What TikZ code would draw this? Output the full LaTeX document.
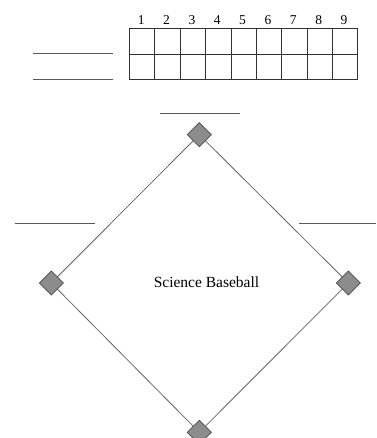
\documentclass[tikz,border=0pt]{standalone}
\usepackage{fontspec}
\setmainfont{Liberation Serif}
\begin{document}
\begin{tikzpicture}[x=1pt,y=-1pt,
  blank/.style={draw=black!65,line width=1pt},
  field/.style={draw=black!60,line width=0.8pt},
  base/.style={draw=black!70,fill=black!45,line width=0.7pt,minimum size=17pt,rotate=45,inner sep=0pt},
  gridline/.style={draw=black!80,line width=0.8pt},
  num/.style={font=\fontsize{13.5}{13.5}\selectfont,inner sep=0pt}]
\useasboundingbox (0,0) rectangle (376,438);
% score grid
\def\gx{129.5}\def\gw{25.35}
\draw[gridline] (\gx,28.7) rectangle (\gx+9*\gw,79.3);
\draw[gridline] (\gx,54) -- (\gx+9*\gw,54);
\foreach \i in {1,...,8} \draw[gridline] (\gx+\i*\gw,28.7) -- (\gx+\i*\gw,79.3);
\foreach \i in {1,...,9} \node[num] (n\i) at (\gx+\i*\gw-0.5*\gw-1,20.5) {\i};
% name lines
\draw[blank] (33.3,54) -- (112.7,54);
\draw[blank] (33.3,79.3) -- (112.7,79.3);
\draw[blank] (160,113.3) -- (240,113.3);
\draw[blank] (15,223.3) -- (95,223.3);
\draw[blank] (299.3,223.3) -- (376,223.3);
% field
\coordinate (tc) at (199.3,134.7);
\coordinate (lc) at (51.3,283);
\coordinate (rc) at (348.3,283);
\coordinate (bc) at (199.3,432.3);
\draw[field] (tc) -- (lc) -- (bc) -- (rc) -- cycle;
\node[base] (top) at (tc) {};
\node[base] (left) at (lc) {};
\node[base] (right) at (rc) {};
\node[base] (bottom) at (bc) {};
\node[font=\fontsize{15.5}{15.5}\selectfont,inner sep=0pt] (title) at (206.5,282) {Science Baseball};
\end{tikzpicture}
\end{document}
